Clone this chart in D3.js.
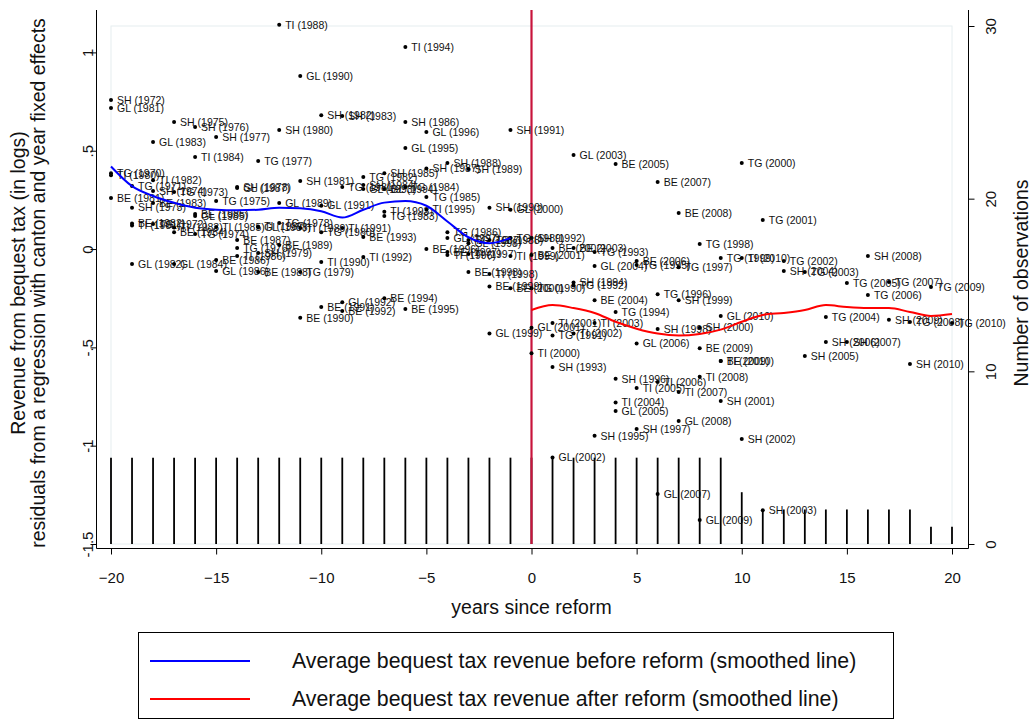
<!DOCTYPE html>
<html>
<head>
<meta charset="utf-8">
<script src="https://cdn.jsdelivr.net/npm/d3@7"></script>
<style>
body { margin: 0; background: #fff; }
svg text { font-family: "Liberation Sans", Arial, Helvetica, sans-serif; fill: #111; }
</style>
</head>
<body>
<div id="chart"></div>
<script>
// cantons, year of the reform and first year with data
var cantons = ["SH", "GL", "TG", "TI", "BE"];
var reformYears = [1992, 2001, 1990, 2000, 2001];
var firstYears = [1972, 1981, 1970, 1980, 1981];

// residual log revenue, one value per year starting at firstYears
var shValues = [0.758, 0.21, 0.295, 0.646, 0.62, 0.57, 0.315, -0.02, 0.605, 0.346,
    0.68, 0.677, 0.326, 0.386, 0.646, 0.41, 0.437, 0.407, 0.21, 0.605,
    0.056, -0.6, -0.17, -0.95, -0.66, -0.915, -0.407, -0.26, -0.4, -0.773,
    -0.966, -1.328, -0.112, -0.544, -0.473, -0.473, -0.036, -0.36, -0.585];
var glValues = [0.717, -0.076, 0.544, -0.076, 0.168, -0.112, 0.31, 0.11, 0.234, 0.88,
    0.22, -0.27, 0.305, 0.305, 0.514, 0.595, 0.056, 0.03, -0.43, 0.2,
    -0.4, -1.06, 0.478, -0.086, -0.824, -0.48, -1.246, -0.875, -1.378, -0.34];
var tgValues = [0.385, 0.32, 0.127, 0.29, 0.076, 0.244, 0.005, 0.448, 0.132, -0.117,
    0.086, 0.315, 0.366, 0.168, 0.315, 0.265, 0.086, 0.046, 0.046, 0.056,
    -0.2, -0.44, -0.185, -0.015, -0.32, -0.081, -0.23, -0.092, 0.025, -0.046,
    0.437, 0.148, -0.061, -0.117, -0.346, -0.173, -0.234, -0.168, -0.371, -0.193, -0.376];
var tiValues = [0.375, 0.12, 0.35, 0.11, 0.468, 0.112, -0.036, 0.115, 1.14, 0.107,
    -0.066, 0.107, -0.04, 0.19, 1.027, 0.2, -0.03, -0.025, -0.127, -0.036,
    -0.53, -0.376, -0.43, -0.376, -0.78, -0.707, -0.676, -0.727, -0.65, -0.57, -0.046];
var beValues = [0.26, 0.13, 0.234, 0.086, 0.178, -0.056, 0.046, -0.117, 0.02, -0.35,
    -0.295, -0.315, 0.061, -0.25, -0.305, 0.0, -0.015, -0.117, -0.19, -0.2,
    -0.03, 0.005, 0.005, -0.26, 0.432, -0.061, 0.341, 0.183, -0.504, -0.57];
var cantonValues = [shValues, glValues, tgValues, tiValues, beValues];

// number of observations per year since reform
var obsYears = [-20, -19, -18, -17, -16, -15, -14, -13, -12, -11, -10, -9, -8, -7, -6, -5, -4, -3, -2, -1,
    0, 1, 2, 3, 4, 5, 6, 7, 8, 9, 10, 11, 12, 13, 14, 15, 16, 17, 18, 19, 20];
var obsCount = [5, 5, 5, 5, 5, 5, 5, 5, 5, 5, 5, 5, 5, 5, 5, 5, 5, 5, 5, 5,
    5, 5, 5, 5, 5, 5, 5, 5, 5, 5, 3, 2, 2, 2, 2, 2, 2, 2, 2, 1, 1];

// smoothed averages
var beforeYears = [-20, -19, -18, -17, -16, -15, -14, -13, -12, -11, -10, -9, -8, -7, -6, -5, -4, -3, -2, -1];
var beforeAvg = [0.42, 0.32, 0.27, 0.235, 0.21, 0.2, 0.197, 0.2, 0.21, 0.207,
    0.192, 0.16, 0.2, 0.236, 0.244, 0.22, 0.14, 0.06, 0.03, 0.056];
var afterYears = [0, 1, 2, 3, 4, 5, 6, 7, 8, 9, 10, 11, 12, 13, 14, 15, 16, 17, 18, 19, 20];
var afterAvg = [-0.31, -0.285, -0.3, -0.325, -0.37, -0.405, -0.43, -0.44, -0.432, -0.41,
    -0.37, -0.335, -0.325, -0.31, -0.285, -0.295, -0.3, -0.3, -0.32, -0.34, -0.33];

var xTicks = [-20, -15, -10, -5, 0, 5, 10, 15, 20];
var yTicks = [-1.5, -1, -0.5, 0, 0.5, 1];
var nTicks = [0, 10, 20, 30];

var width = 1032, height = 720;
var svg = d3.select("#chart").append("svg")
    .attr("width", width)
    .attr("height", height);

var x = d3.scaleLinear().domain([-20, 20]).range([111, 952]);
var y = d3.scaleLinear().domain([-1.5, 1]).range([544, 52.4]);
var yN = d3.scaleLinear().domain([0, 30]).range([544, 26]);

var plotLeft = 96.5, plotRight = 968.5, plotTop = 10, plotBottom = 548.5;

// faint inner plot region
svg.append("rect")
    .attr("x", x(-20)).attr("y", yN(30))
    .attr("width", x(20) - x(-20)).attr("height", yN(0) - yN(30))
    .attr("fill", "none").attr("stroke", "#e6eef0");

// points
var points = [];
cantons.forEach(function(c, ci) {
    cantonValues[ci].forEach(function(v, i) {
        var yr = firstYears[ci] + i;
        points.push({canton: c, year: yr, t: yr - reformYears[ci], value: v});
    });
});

// observation spikes
svg.selectAll(".spike")
    .data(obsYears)
    .enter().append("line")
    .attr("class", "spike")
    .attr("x1", d => x(d)).attr("x2", d => x(d))
    .attr("y1", yN(0))
    .attr("y2", (d, i) => yN(obsCount[i]))
    .attr("stroke", "#000")
    .attr("stroke-width", 1.8);

// reform line
svg.append("line")
    .attr("x1", x(0)).attr("x2", x(0))
    .attr("y1", plotTop).attr("y2", yN(0))
    .attr("stroke", "#c8143c")
    .attr("stroke-width", 2.2);

var pts = svg.append("g").selectAll("g")
    .data(points)
    .enter().append("g")
    .attr("transform", d => "translate(" + x(d.t) + "," + y(d.value) + ")");

pts.append("circle")
    .attr("r", 2)
    .attr("fill", "#000");

pts.append("text")
    .attr("x", 6)
    .attr("dy", "0.35em")
    .attr("font-size", "10.5px")
    .text(d => d.canton + " (" + d.year + ")");

// smoothed lines
var line = d3.line()
    .x(d => x(d[0]))
    .y(d => y(d[1]))
    .curve(d3.curveMonotoneX);

svg.append("path")
    .datum(beforeYears.map((t, i) => [t, beforeAvg[i]]))
    .attr("d", line)
    .attr("fill", "none")
    .attr("stroke", "#0000ff")
    .attr("stroke-width", 2);

svg.append("path")
    .datum(afterYears.map((t, i) => [t, afterAvg[i]]))
    .attr("d", line)
    .attr("fill", "none")
    .attr("stroke", "#ff0000")
    .attr("stroke-width", 2);

// axes
var fmt = function(d) {
    return String(d).replace("0.", ".");
};

var yAxis = svg.append("g")
    .attr("transform", "translate(" + plotLeft + ",0)")
    .call(d3.axisLeft(y).tickValues(yTicks).tickFormat(fmt).tickSize(6).tickSizeOuter(0));
yAxis.select(".domain").remove();
yAxis.selectAll("text")
    .attr("x", 0).attr("y", -4).attr("dy", 0)
    .attr("text-anchor", "middle")
    .attr("transform", "rotate(-90)")
    .attr("font-size", "15px");

var nAxis = svg.append("g")
    .attr("transform", "translate(" + plotRight + ",0)")
    .call(d3.axisRight(yN).tickValues(nTicks).tickSize(6).tickSizeOuter(0));
nAxis.select(".domain").remove();
nAxis.selectAll("text")
    .attr("x", 0).attr("y", 27).attr("dy", 0)
    .attr("text-anchor", "middle")
    .attr("transform", "rotate(-90)")
    .attr("font-size", "15px");

var xAxis = svg.append("g")
    .attr("transform", "translate(0," + plotBottom + ")")
    .call(d3.axisBottom(x).tickValues(xTicks).tickSize(6).tickSizeOuter(0));
xAxis.select(".domain").remove();
xAxis.selectAll("text")
    .attr("y", 34).attr("dy", 0)
    .attr("font-size", "15px");

svg.selectAll(".tick line").attr("stroke", "#000");
svg.selectAll(".tick text").attr("fill", "#111");

svg.append("line")
    .attr("x1", plotLeft).attr("x2", plotLeft)
    .attr("y1", plotTop).attr("y2", plotBottom)
    .attr("stroke", "#000");
svg.append("line")
    .attr("x1", plotRight).attr("x2", plotRight)
    .attr("y1", plotTop).attr("y2", plotBottom)
    .attr("stroke", "#000");
svg.append("line")
    .attr("x1", plotLeft).attr("x2", plotRight)
    .attr("y1", plotBottom).attr("y2", plotBottom)
    .attr("stroke", "#000");

// titles
svg.append("text")
    .attr("transform", "translate(25,283) rotate(-90)")
    .attr("text-anchor", "middle")
    .attr("font-size", "19.5px")
    .text("Revenue from bequest tax (in logs)");
svg.append("text")
    .attr("transform", "translate(45,283) rotate(-90)")
    .attr("text-anchor", "middle")
    .attr("font-size", "19.5px")
    .text("residuals from a regression with canton and year fixed effects");
svg.append("text")
    .attr("transform", "translate(1028,283) rotate(-90)")
    .attr("text-anchor", "middle")
    .attr("font-size", "19.5px")
    .text("Number of observations");
svg.append("text")
    .attr("x", x(0)).attr("y", 614)
    .attr("text-anchor", "middle")
    .attr("font-size", "19.5px")
    .text("years since reform");

// legend
var legend = svg.append("g");
legend.append("rect")
    .attr("x", 138.5).attr("y", 632.5)
    .attr("width", 755).attr("height", 86)
    .attr("fill", "#fff").attr("stroke", "#000");

var legendItems = [
    {color: "#0000ff", label: "Average bequest tax revenue before reform (smoothed line)", y: 661},
    {color: "#ff0000", label: "Average bequest tax revenue after reform (smoothed line)", y: 699}
];
legendItems.forEach(function(d) {
    legend.append("line")
        .attr("x1", 150).attr("x2", 250)
        .attr("y1", d.y).attr("y2", d.y)
        .attr("stroke", d.color).attr("stroke-width", 2);
    legend.append("text")
        .attr("x", 292).attr("y", d.y)
        .attr("dy", "0.35em")
        .attr("font-size", "21.3px")
        .text(d.label);
});
</script>
</body>
</html>
